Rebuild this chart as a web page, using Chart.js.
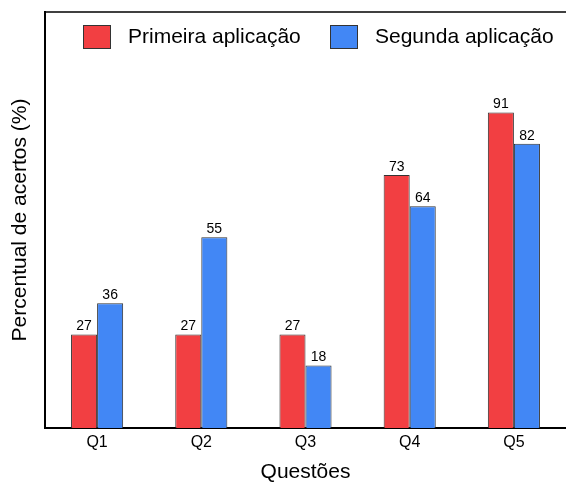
<!DOCTYPE html>
<html>
<head>
<meta charset="utf-8">
<script src="https://cdn.jsdelivr.net/npm/chart.js@4/dist/chart.umd.min.js"></script>
<style>
  html, body { margin: 0; padding: 0; background: #fff; }
  #wrap { width: 566px; height: 484px; }
</style>
</head>
<body>
<div id="wrap"><canvas id="c" width="566" height="484"></canvas></div>
<script>
const categories = ['Q1', 'Q2', 'Q3', 'Q4', 'Q5'];
const primeira = [27, 27, 27, 73, 91];
const segunda = [36, 55, 18, 64, 82];
const seriesNames = ['Primeira aplicação', 'Segunda aplicação'];

const FONT = '"Liberation Sans", Arial, sans-serif';
const RED = '#f23f42';
const BLUE = '#4287f5';

// Value labels above each bar, frame line on top, and the in-plot legend
const decorations = {
  id: 'decorations',
  afterDatasetsDraw(chart) {
    const ctx = chart.ctx;
    ctx.save();
    ctx.fillStyle = '#000';
    ctx.font = '14px ' + FONT;
    ctx.textAlign = 'center';
    ctx.textBaseline = 'bottom';
    chart.data.datasets.forEach((ds, i) => {
      chart.getDatasetMeta(i).data.forEach((bar, j) => {
        ctx.fillText(String(ds.data[j]), bar.x, bar.y - 1);
      });
    });
    // top frame line
    const a = chart.chartArea;
    ctx.strokeStyle = '#000';
    ctx.lineWidth = 1.5;
    ctx.beginPath();
    ctx.moveTo(a.left, a.top);
    ctx.lineTo(chart.width, a.top);
    ctx.stroke();
    // legend
    const items = [
      { x: 83, label: seriesNames[0], color: chart.data.datasets[0].backgroundColor },
      { x: 330, label: seriesNames[1], color: chart.data.datasets[1].backgroundColor }
    ];
    ctx.font = '21px ' + FONT;
    ctx.textAlign = 'left';
    ctx.textBaseline = 'middle';
    items.forEach(it => {
      ctx.fillStyle = it.color;
      ctx.fillRect(it.x, 25, 28, 24);
      ctx.strokeStyle = '#333';
      ctx.lineWidth = 1;
      ctx.strokeRect(it.x + 0.5, 25.5, 27, 23);
      ctx.fillStyle = '#000';
      ctx.fillText(it.label, it.x + 45, 37);
    });
    ctx.restore();
  }
};

new Chart(document.getElementById('c'), {
  type: 'bar',
  data: {
    labels: categories,
    datasets: [
      { label: seriesNames[0], data: primeira, backgroundColor: RED, borderColor: '#333', borderWidth: 1 },
      { label: seriesNames[1], data: segunda, backgroundColor: BLUE, borderColor: '#333', borderWidth: 1 }
    ]
  },
  options: {
    responsive: false,
    animation: false,
    layout: { padding: { top: 12, right: 0, left: 0, bottom: 0 } },
    datasets: { bar: { categoryPercentage: 0.5, barPercentage: 1.0 } },
    plugins: { legend: { display: false }, tooltip: { enabled: false } },
    scales: {
      x: {
        grid: { display: false, drawTicks: false },
        border: { display: true, color: '#000', width: 2 },
        ticks: { color: '#000', font: { family: FONT, size: 16 }, padding: 5 },
        title: { display: true, text: 'Questões', color: '#000', font: { family: FONT, size: 21 }, padding: { top: 0, bottom: -1 } },
        afterFit(scale) { scale.height = 56; }
      },
      y: {
        min: 0, max: 120,
        grid: { display: false, drawTicks: false },
        border: { display: true, color: '#000', width: 2 },
        ticks: { display: false },
        title: { display: true, text: 'Percentual de acertos (%)', color: '#000', font: { family: FONT, size: 21 }, padding: { top: 8, bottom: 0 } },
        afterFit(scale) { scale.width = 45; }
      }
    }
  },
  plugins: [decorations]
});
</script>
</body>
</html>
